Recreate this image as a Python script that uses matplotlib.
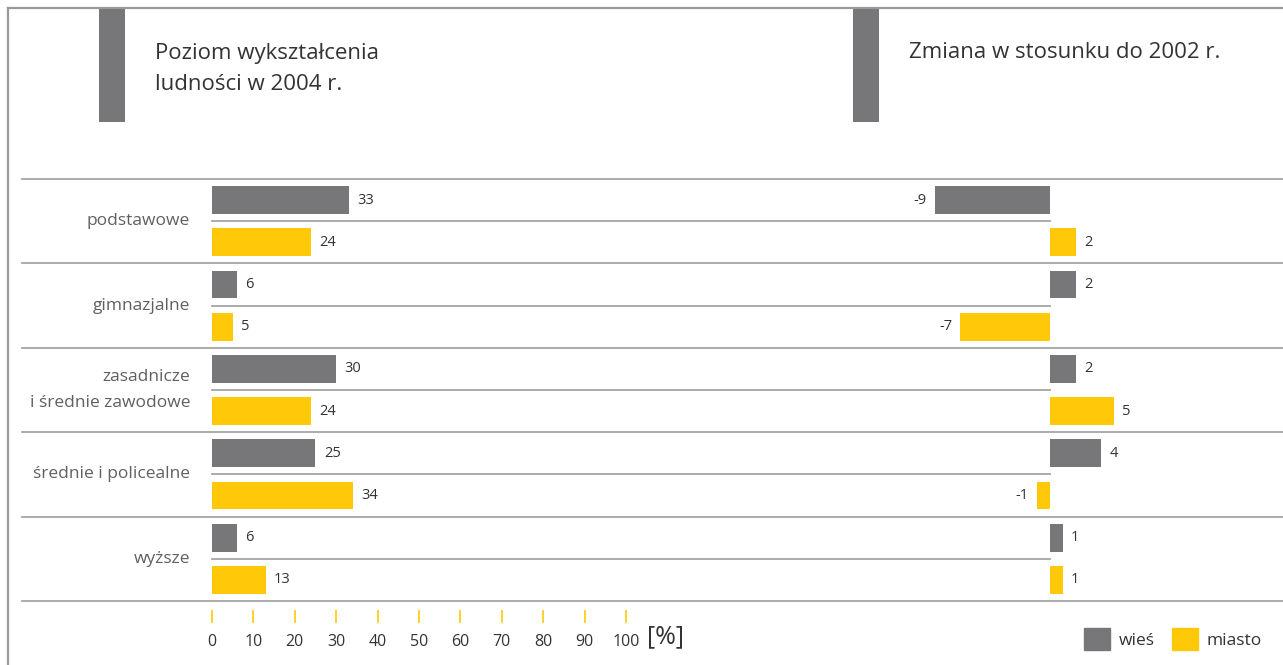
import matplotlib
matplotlib.use('Agg')
import matplotlib.pyplot as plt
from matplotlib.patches import Rectangle, Patch
from matplotlib.transforms import blended_transform_factory

plt.rcParams['font.family'] = ['Open Sans', 'DejaVu Sans']

# data ----------------------------------------------------------------
categories = ['podstawowe', 'gimnazjalne', 'zasadnicze\ni średnie zawodowe',
              'średnie i policealne', 'wyższe']
wies_2004 = [33, 6, 30, 25, 6]
miasto_2004 = [24, 5, 24, 34, 13]
wies_zmiana = [-9, 2, 2, 4, 1]
miasto_zmiana = [2, -7, 5, -1, 1]
series_names = ['wieś', 'miasto']
ticks_pct = [0, 10, 20, 30, 40, 50, 60, 70, 80, 90, 100]

gray = '#77777a'
yellow = '#ffc90a'
line_c = '#a5a5a5'
txt = '#333333'

W, H = 1283, 665
fig = plt.figure(figsize=(W / 100, H / 100), dpi=100)

def fx(px):
    return px / W

def fy(py):
    return 1 - py / H

# frame and header blocks
fig.add_artist(plt.Line2D([fx(8), fx(W)], [fy(8), fy(8)], color='#9a9a9a', lw=1.6))
fig.add_artist(plt.Line2D([fx(8), fx(8)], [fy(8), fy(H)], color='#9a9a9a', lw=1.6))
for x0 in [99, 853]:
    fig.add_artist(Rectangle((fx(x0), fy(122)), 26 / W, 113 / H, color=gray, lw=0))
fig.text(fx(155), fy(53), 'Poziom wykształcenia', fontsize=16, color=txt, va='center')
fig.text(fx(155), fy(85), 'ludności w 2004 r.', fontsize=16, color=txt, va='center')
fig.text(fx(909), fy(53), 'Zmiana w stosunku do 2002 r.', fontsize=16, color=txt, va='center')

# bar axes
top, bot = 179, 601
ax1 = fig.add_axes([fx(212), fy(bot), (626 - 212) / W, (bot - top) / H])
ax2 = fig.add_axes([fx(850), fy(bot), 400 / W, (bot - top) / H])
ax1.set_xlim(0, 100)
scale = 12.8  # px per unit on right panel
ax2.set_xlim(-200 / scale, 200 / scale)
for ax in (ax1, ax2):
    ax.set_ylim(9.5, -0.5)
    ax.axis('off')

rows_w = [2 * i for i in range(len(categories))]
rows_m = [2 * i + 1 for i in range(len(categories))]
bh = 0.66

def label_bars(ax, rows, vals):
    for r, v in zip(rows, vals):
        off = 6 if v >= 0 else -6
        ax.annotate(str(v), (v, r), xytext=(off, 0), textcoords='offset points',
                    ha='left' if v >= 0 else 'right', va='center', fontsize=10.5, color=txt)

ax1.barh(rows_w, wies_2004, height=bh, color=gray)
ax1.barh(rows_m, miasto_2004, height=bh, color=yellow)
ax2.barh(rows_w, wies_zmiana, height=bh, color=gray)
ax2.barh(rows_m, miasto_zmiana, height=bh, color=yellow)
label_bars(ax1, rows_w, wies_2004)
label_bars(ax1, rows_m, miasto_2004)
label_bars(ax2, rows_w, wies_zmiana)
label_bars(ax2, rows_m, miasto_zmiana)

# separators and category labels
tr = blended_transform_factory(fig.transFigure, ax1.transData)
for k in range(len(categories) + 1):
    y = 2 * k - 0.5
    ax1.plot([fx(22), 1], [y, y], color=line_c, lw=1.3, transform=tr, clip_on=False)
for k in range(len(categories)):
    y = 2 * k + 0.5
    ax1.plot([fx(212), fx(1050)], [y, y], color=line_c, lw=1.3, transform=tr, clip_on=False)
    ax1.text(fx(190), y, categories[k], transform=tr, ha='right', va='center',
             multialignment='right', linespacing=1.85, fontsize=12.5, color='#606060')

# percent scale
ax3 = fig.add_axes([fx(212), fy(623), (626 - 212) / W, 13 / H])
ax3.set_xlim(0, 100)
ax3.set_ylim(0, 1)
for s in ax3.spines.values():
    s.set_visible(False)
ax3.patch.set_visible(False)
ax3.set_yticks([])
ax3.set_xticks(ticks_pct)
ax3.tick_params(axis='x', direction='in', length=13 * 0.72, width=1.2, color=yellow,
                labelsize=11.5, labelcolor=txt, pad=8)
fig.text(fx(647), fy(637), '[%]', fontsize=18, color=txt, va='center')

# legend
handles = [Patch(color=gray), Patch(color=yellow)]
fig.legend(handles, series_names, loc='center left', bbox_to_anchor=(fx(1068), fy(639)),
           ncol=2, frameon=False, fontsize=12.5, handlelength=1.5, handleheight=1.5,
           handletextpad=0.5, columnspacing=1.0, labelcolor=txt)

fig.savefig('out.png', dpi=100)
